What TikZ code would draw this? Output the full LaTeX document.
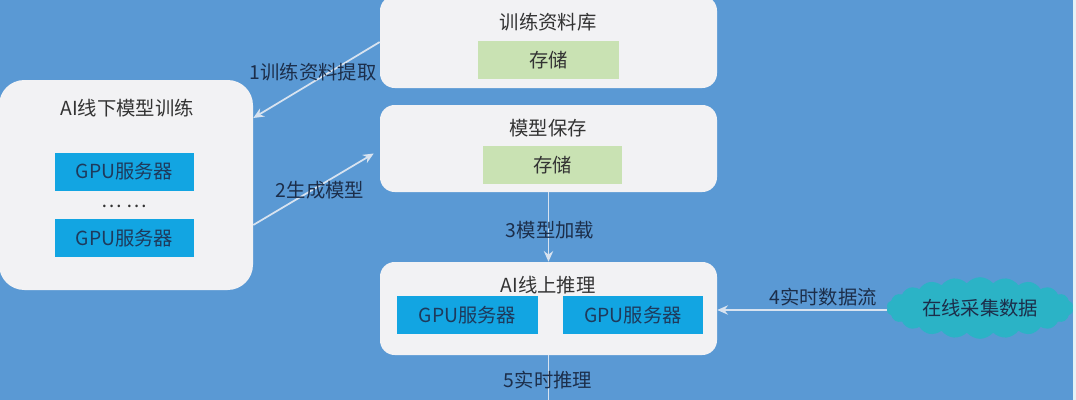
\documentclass[tikz,border=0pt]{standalone}
\usepackage{fontspec}
\setmainfont{Noto Sans CJK SC}
\usetikzlibrary{shapes.symbols,calc,arrows.meta}
\definecolor{bg}{HTML}{5A99D4}
\definecolor{boxc}{HTML}{F2F2F4}
\definecolor{gpuc}{HTML}{12A5E2}
\definecolor{greenc}{HTML}{C9E2B3}
\definecolor{cloudc}{HTML}{2BB3C6}
\definecolor{arrc}{HTML}{D8E3F0}
\definecolor{titlec}{HTML}{333333}
\definecolor{gputxt}{HTML}{1E3A5C}
\definecolor{labc}{HTML}{1C2E4A}
\definecolor{edgec}{HTML}{E6F2F6}
\tikzset{
  panel/.style={fill=boxc, draw=none, rounded corners=#1},
  panel/.default=12pt,
  gpubox/.style={fill=gpuc, draw=none, minimum height=28.5pt, text=gputxt, font=\fontsize{14.5}{16}\selectfont, inner sep=0pt},
  storebox/.style={fill=greenc, draw=none, minimum width=105.75pt, minimum height=28.5pt, text=titlec, font=\fontsize{14.5}{16}\selectfont, inner sep=0pt},
  ttl/.style={text=titlec, font=\fontsize{14.5}{16}\selectfont, inner sep=0pt},
  lab/.style={text=labc, font=\fontsize{14.5}{16}\selectfont, inner sep=1pt},
  conn/.style={draw=arrc, line width=1.3pt, -{Stealth[length=8pt,width=7pt]}},
  plain/.style={draw=arrc, line width=1.3pt}
}
\begin{document}
\begin{tikzpicture}[x=0.75pt,y=-0.75pt]
\useasboundingbox (0,0) rectangle (1076,400);
\fill[bg] (0,0) rectangle (1076,400);
\fill[edgec] (1073,0) rectangle (1076,400);

% panels
\node[panel=19pt, minimum width=190.5pt, minimum height=157.5pt] (L) at (126,185) {};
\node[panel=11pt, minimum width=252.75pt, minimum height=69pt] (T) at (548.5,42) {};
\node[panel=11pt, minimum width=252.75pt, minimum height=65.25pt] (M) at (548.5,148.5) {};
\node[panel=11pt, minimum width=252.75pt, minimum height=69.75pt] (I) at (548.5,308.5) {};

% titles
\node[ttl] (Lt) at (127,108) {AI线下模型训练};
\node[ttl] (Tt) at (548,22) {训练资料库};
\node[ttl] (Mt) at (548,128) {模型保存};
\node[ttl] (It) at (548,285) {AI线上推理};

% inner boxes
\node[gpubox, minimum width=104.25pt] (L1) at (124.5,171.5) {GPU服务器};
\node[ttl] (Ld) at (124.5,206) {… …};
\node[gpubox, minimum width=104.25pt] (L2) at (124.5,238) {GPU服务器};
\node[storebox] (T1) at (548.5,60) {存储};
\node[storebox, minimum width=104.25pt] (M1) at (552.5,165) {存储};
\node[gpubox, minimum width=105.75pt] (I1) at (467.5,315) {GPU服务器};
\node[gpubox, minimum width=105pt] (I2) at (633,315) {GPU服务器};

% cloud
\node[cloud, cloud puffs=22, cloud puff arc=100, aspect=3.2, fill=cloudc, draw=none,
      minimum width=140pt, minimum height=45pt, inner sep=0pt, text=labc,
      font=\fontsize{14.5}{16}\selectfont] (C) at (980,308) {在线采集数据};

% connectors
\coordinate (bot) at (548.5,402);
\draw[conn] (T.west) -- ($(L.east)+(0,-67)$);
\draw[conn] ($(L.east)+(0,40)$) -- ($(M.west)+(-6,5)$);
\draw[conn] (M.south) -- (I.north);
\draw[conn] ($(C.west)+(0,2)$) -- (I.east |- {$(C.west)+(0,2)$});
\draw[plain] (I.south) -- (bot);

% labels
\node[lab] (a1) at (313,72) {1训练资料提取};
\node[lab] (a2) at (320,190) {2生成模型};
\node[lab] (a3) at (550,230) {3模型加载};
\node[lab] (a4) at (823,297) {4实时数据流};
\node[lab] (a5) at (548,380) {5实时推理};
\end{tikzpicture}
\end{document}
